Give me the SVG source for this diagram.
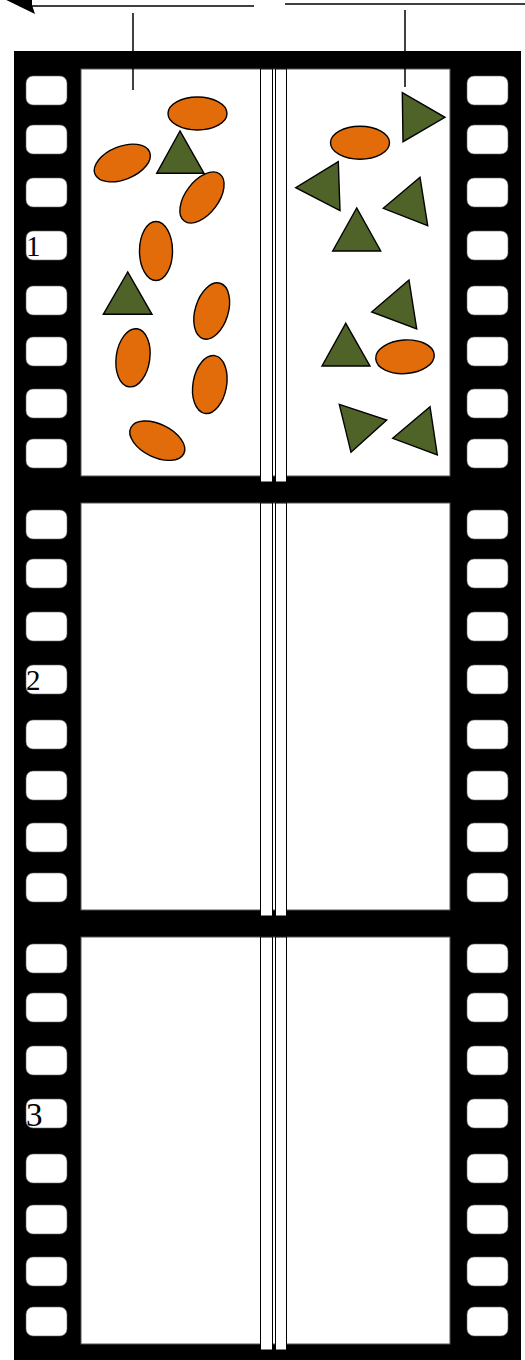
<svg xmlns="http://www.w3.org/2000/svg" xmlns:xlink="http://www.w3.org/1999/xlink" width="525" height="1360" viewBox="0 0 525 1360">
<style>
.film{fill:#000}
.hole{fill:#fff;stroke:#666;stroke-width:0.6}
.frame{fill:#fff;stroke:#555;stroke-width:1}
.strip{fill:#fff;stroke:#000;stroke-width:1}
.ov{fill:#E36C0A;stroke:#000;stroke-width:1.4}
.tri{fill:#4F6228;stroke:#000;stroke-width:1.4;stroke-linejoin:miter}
.conn{stroke:#000;stroke-width:1.5;fill:none}
.lbl{font-family:"Liberation Serif","Times New Roman",serif;font-size:29px;fill:#000}
</style>
<defs>
<rect id="h" x="0" y="0" width="41" height="29" rx="7" ry="7" class="hole"/>
<g id="holes">
<use xlink:href="#h" y="0"/><use xlink:href="#h" y="49"/><use xlink:href="#h" y="102"/><use xlink:href="#h" y="155"/>
<use xlink:href="#h" y="210"/><use xlink:href="#h" y="261"/><use xlink:href="#h" y="313"/><use xlink:href="#h" y="363"/>
</g>
<g id="frm">
<rect class="frame" x="81" y="0" width="369" height="407"/>
<rect class="strip" x="260.5" y="0" width="12" height="413"/>
<rect class="strip" x="275.5" y="0" width="11" height="413"/>
</g>
</defs>
<g id="filmstrip">
<rect class="film" x="14" y="51" width="507" height="1320"/>
<g id="frame1"><use xlink:href="#frm" y="69"/><use xlink:href="#holes" x="26" y="76"/><use xlink:href="#holes" x="467" y="76"/></g>
<g id="frame2"><use xlink:href="#frm" y="503"/><use xlink:href="#holes" x="26" y="510"/><use xlink:href="#holes" x="467" y="510"/></g>
<g id="frame3"><use xlink:href="#frm" y="937"/><use xlink:href="#holes" x="26" y="944"/><use xlink:href="#holes" x="467" y="944"/></g>
<text class="lbl" x="26" y="256">1</text>
<text class="lbl" x="26" y="690">2</text>
<text class="lbl" x="26" y="1126" style="font-size:33px">3</text>
</g>
<g id="connectors">
<line class="conn" x1="254" y1="6" x2="20" y2="6"/>
<polygon points="-6,-6 35,14 32,5 32,-6" fill="#000"/>
<line class="conn" x1="285" y1="4" x2="525" y2="4"/>
<line class="conn" x1="133" y1="13" x2="133" y2="90"/>
<line class="conn" x1="405" y1="10" x2="405" y2="87"/>
</g>
<g id="left-shapes">
<ellipse id="oA" class="ov" cx="197.5" cy="113.5" rx="29.5" ry="16.5"/>
<polygon id="tL1" class="tri" points="180,131 156.7,173.3 204,173.3"/>
<ellipse id="oB" class="ov" cx="122.3" cy="163" rx="29.5" ry="16.5" transform="rotate(-22 122.3 163)"/>
<ellipse id="oC" class="ov" cx="202" cy="197.5" rx="29.5" ry="16.5" transform="rotate(-53 202 197.5)"/>
<ellipse id="oD" class="ov" cx="156" cy="251" rx="16.5" ry="29.5"/>
<polygon id="tL2" class="tri" points="127.7,272 103.3,314.3 152,314.3"/>
<ellipse id="oE" class="ov" cx="211.7" cy="311" rx="16.5" ry="29" transform="rotate(17 211.7 311)"/>
<ellipse id="oF" class="ov" cx="133" cy="357.8" rx="16.8" ry="29.3" transform="rotate(8 133 357.8)"/>
<ellipse id="oG" class="ov" cx="209.8" cy="384.5" rx="16.8" ry="29.3" transform="rotate(10 209.8 384.5)"/>
<ellipse id="oH" class="ov" cx="157.3" cy="440.7" rx="29.5" ry="16.5" transform="rotate(26 157.3 440.7)"/>
</g>
<g id="right-shapes">
<polygon id="tR1" class="tri" points="402.3,92.7 445,117.3 403,141.7"/>
<ellipse id="oR1" class="ov" cx="360" cy="142.8" rx="29.5" ry="16.5"/>
<polygon id="tR2" class="tri" points="338.3,161.7 295.7,187.7 340,210.7"/>
<polygon id="tR3" class="tri" points="420,177.3 383.3,208.3 427.7,225.7"/>
<polygon id="tR4" class="tri" points="356.7,208 332.7,251 380.7,251"/>
<polygon id="tR5" class="tri" points="409,280 371.7,312 416.7,329"/>
<polygon id="tR6" class="tri" points="345.7,323.3 322,366 370,366"/>
<ellipse id="oR2" class="ov" cx="405" cy="356.8" rx="29.3" ry="16.8" transform="rotate(-4 405 356.8)"/>
<polygon id="tR7" class="tri" points="339.3,404.3 386.7,420 351,452.3"/>
<polygon id="tR8" class="tri" points="430,406.7 392.7,438.3 437.3,455"/>
</g>
</svg>
